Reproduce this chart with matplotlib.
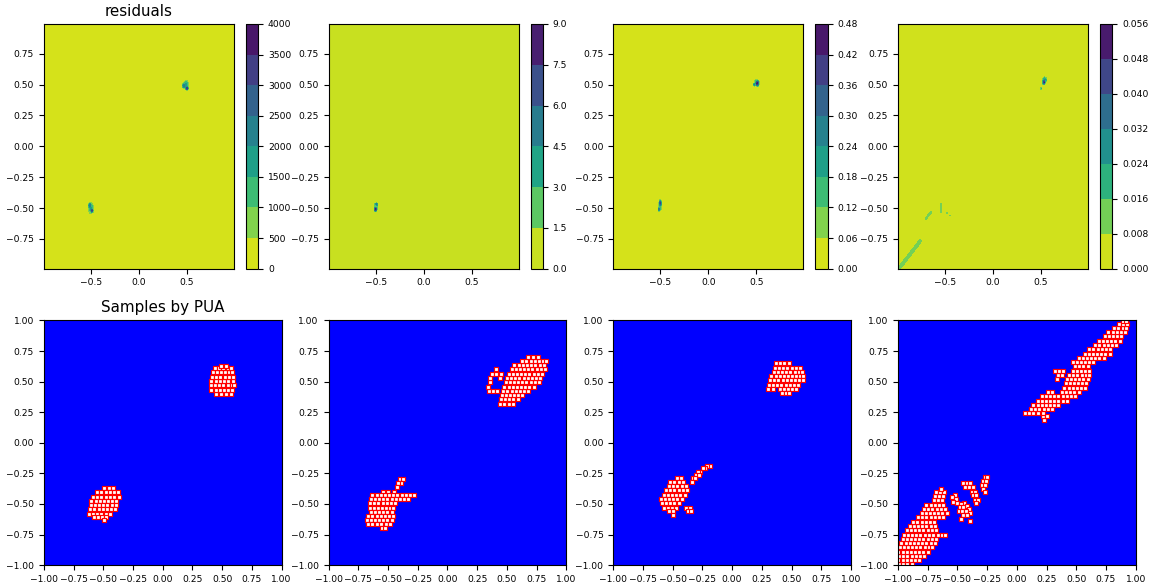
import numpy as np
import matplotlib
matplotlib.use("Agg")
import matplotlib.pyplot as plt

# residual hot spots: (x, y, peak, sx, sy)
res1_spots = [(0.47, 0.49, 2500, 0.012, 0.012), (0.50, 0.47, 3800, 0.008, 0.008),
              (0.49, 0.50, 1800, 0.016, 0.020), (-0.51, -0.48, 2600, 0.010, 0.014),
              (-0.49, -0.52, 3300, 0.008, 0.010), (-0.50, -0.50, 1600, 0.016, 0.030)]
res2_spots = [(-0.50, -0.51, 8.5, 0.008, 0.010), (-0.49, -0.47, 6.0, 0.006, 0.008),
              (-0.50, -0.49, 3.0, 0.014, 0.022)]
res3_spots = [(0.51, 0.51, 0.46, 0.010, 0.014), (0.48, 0.50, 0.30, 0.006, 0.007),
              (0.50, 0.52, 0.15, 0.016, 0.016), (-0.50, -0.46, 0.40, 0.007, 0.016),
              (-0.51, -0.51, 0.32, 0.006, 0.009), (-0.50, -0.48, 0.15, 0.012, 0.030)]
res4_spots = [(0.53, 0.52, 0.052, 0.008, 0.012), (0.54, 0.54, 0.025, 0.014, 0.014),
              (0.50, 0.47, 0.020, 0.005, 0.005), (-0.48, -0.54, 0.012, 0.004, 0.004),
              (-0.45, -0.56, 0.012, 0.004, 0.004)]
# thin streaks: (x0, y0, x1, y1, peak, width)
res4_streaks = [(-0.98, -0.99, -0.76, -0.77, 0.012, 0.014),
                (-0.70, -0.585, -0.645, -0.535, 0.011, 0.008),
                (-0.54, -0.53, -0.54, -0.47, 0.013, 0.005)]

# samples by PUA, one row = (y, [x, ...])
pua1_rows = [
    (0.40, [0.45, 0.49, 0.53, 0.57]),
    (0.435, [0.41, 0.445, 0.48, 0.515, 0.55, 0.585]),
    (0.47, [0.405, 0.44, 0.475, 0.51, 0.545, 0.58, 0.60]),
    (0.505, [0.41, 0.445, 0.48, 0.515, 0.55, 0.59]),
    (0.54, [0.415, 0.45, 0.485, 0.52, 0.555, 0.59]),
    (0.575, [0.42, 0.455, 0.49, 0.525, 0.56, 0.585]),
    (0.61, [0.44, 0.475, 0.51, 0.545, 0.575]),
    (0.63, [0.49, 0.53]),
    (-0.37, [-0.49, -0.455, -0.42]),
    (-0.405, [-0.55, -0.515, -0.48, -0.445, -0.41, -0.375]),
    (-0.44, [-0.585, -0.55, -0.515, -0.48, -0.445, -0.41, -0.37]),
    (-0.475, [-0.60, -0.565, -0.53, -0.495, -0.46, -0.425, -0.39]),
    (-0.51, [-0.605, -0.57, -0.535, -0.50, -0.465, -0.43, -0.395]),
    (-0.545, [-0.61, -0.575, -0.54, -0.505, -0.47, -0.435, -0.40]),
    (-0.58, [-0.62, -0.585, -0.55, -0.515, -0.48, -0.445]),
    (-0.61, [-0.58, -0.545, -0.51, -0.475]),
    (-0.635, [-0.49]),
]
pua2_rows = [
    (0.32, [0.44, 0.48, 0.52, 0.555]),
    (0.355, [0.45, 0.485, 0.52, 0.555, 0.59]),
    (0.39, [0.455, 0.49, 0.525, 0.56, 0.595, 0.63]),
    (0.425, [0.35, 0.385, 0.42, 0.47, 0.505, 0.54, 0.575, 0.61, 0.645, 0.68]),
    (0.46, [0.345, 0.48, 0.515, 0.55, 0.585, 0.62, 0.655, 0.69, 0.725]),
    (0.495, [0.355, 0.49, 0.525, 0.56, 0.595, 0.63, 0.665, 0.70, 0.735, 0.77]),
    (0.53, [0.36, 0.44, 0.50, 0.535, 0.57, 0.605, 0.64, 0.675, 0.71, 0.745, 0.78]),
    (0.565, [0.375, 0.41, 0.45, 0.515, 0.55, 0.585, 0.62, 0.655, 0.69, 0.725, 0.76, 0.795]),
    (0.60, [0.405, 0.54, 0.575, 0.61, 0.645, 0.68, 0.715, 0.75, 0.785, 0.82]),
    (0.635, [0.56, 0.60, 0.635, 0.67, 0.705, 0.74, 0.775, 0.81]),
    (0.67, [0.63, 0.665, 0.70, 0.735, 0.77, 0.805, 0.83]),
    (0.70, [0.68, 0.72, 0.76]),
    (-0.30, [-0.40, -0.375]),
    (-0.33, [-0.39, -0.415]),
    (-0.365, [-0.42]),
    (-0.40, [-0.54, -0.50, -0.45]),
    (-0.43, [-0.63, -0.595, -0.56, -0.525, -0.49, -0.455, -0.42, -0.385, -0.35, -0.315, -0.28]),
    (-0.46, [-0.645, -0.61, -0.575, -0.54, -0.505, -0.47, -0.435, -0.40, -0.365, -0.33]),
    (-0.495, [-0.65, -0.615, -0.58, -0.545, -0.51, -0.475, -0.44]),
    (-0.53, [-0.655, -0.62, -0.585, -0.55, -0.515, -0.48, -0.455]),
    (-0.565, [-0.645, -0.61, -0.575, -0.54, -0.505, -0.47]),
    (-0.60, [-0.665, -0.63, -0.595, -0.56, -0.525, -0.49, -0.46]),
    (-0.635, [-0.68, -0.645, -0.61, -0.575, -0.54, -0.505, -0.47]),
    (-0.665, [-0.67, -0.635, -0.59, -0.555, -0.52, -0.485]),
    (-0.70, [-0.55, -0.525]),
]
pua3_rows = [
    (0.65, [0.37, 0.405, 0.44, 0.475]),
    (0.615, [0.36, 0.395, 0.43, 0.465, 0.50, 0.535, 0.57]),
    (0.58, [0.35, 0.385, 0.42, 0.455, 0.49, 0.525, 0.56, 0.59]),
    (0.545, [0.33, 0.365, 0.40, 0.435, 0.47, 0.505, 0.54, 0.575, 0.595]),
    (0.51, [0.32, 0.355, 0.39, 0.425, 0.46, 0.495, 0.53, 0.565, 0.595]),
    (0.475, [0.31, 0.345, 0.38, 0.415, 0.45, 0.485, 0.52, 0.555]),
    (0.44, [0.30, 0.34, 0.40, 0.435, 0.47, 0.505, 0.54]),
    (0.41, [0.42, 0.455, 0.48]),
    (-0.19, [-0.19, -0.21]),
    (-0.21, [-0.23, -0.245]),
    (-0.235, [-0.27, -0.285]),
    (-0.26, [-0.30, -0.28]),
    (-0.29, [-0.33, -0.31]),
    (-0.29, [-0.46, -0.43]),
    (-0.32, [-0.52, -0.485, -0.45, -0.415, -0.34]),
    (-0.355, [-0.53, -0.495, -0.46, -0.425, -0.39]),
    (-0.39, [-0.555, -0.52, -0.485, -0.45, -0.415, -0.38]),
    (-0.425, [-0.575, -0.54, -0.505, -0.47, -0.435, -0.40]),
    (-0.46, [-0.60, -0.565, -0.53, -0.495, -0.46, -0.425]),
    (-0.495, [-0.59, -0.555, -0.52, -0.485, -0.45]),
    (-0.53, [-0.575, -0.54, -0.505, -0.47, -0.385, -0.355]),
    (-0.56, [-0.53, -0.495, -0.37, -0.345]),
    (-0.59, [-0.50]),
]
pua4_rows = [
    (0.19, [0.23]),
    (0.215, [0.22, 0.25]),
    (0.245, [0.07, 0.10, 0.14, 0.18, 0.22]),
    (0.275, [0.12, 0.155, 0.19, 0.225, 0.26, 0.295]),
    (0.31, [0.14, 0.175, 0.21, 0.245, 0.28, 0.315, 0.35]),
    (0.345, [0.175, 0.21, 0.245, 0.28, 0.315, 0.35, 0.385, 0.42]),
    (0.38, [0.21, 0.245, 0.28, 0.315, 0.35, 0.385, 0.42, 0.455, 0.49]),
    (0.415, [0.26, 0.30, 0.38, 0.415, 0.45, 0.485, 0.52]),
    (0.45, [0.40, 0.435, 0.47, 0.505, 0.54, 0.575]),
    (0.485, [0.41, 0.445, 0.48, 0.515, 0.55, 0.585]),
    (0.52, [0.34, 0.42, 0.455, 0.49, 0.525, 0.56, 0.595]),
    (0.555, [0.345, 0.38, 0.44, 0.475, 0.51, 0.545, 0.58, 0.61]),
    (0.59, [0.32, 0.355, 0.39, 0.47, 0.505, 0.54, 0.575, 0.61]),
    (0.625, [0.49, 0.525, 0.56, 0.595]),
    (0.66, [0.47, 0.505, 0.54, 0.575, 0.61, 0.645]),
    (0.695, [0.52, 0.555, 0.59, 0.625, 0.66, 0.695, 0.73]),
    (0.73, [0.57, 0.605, 0.64, 0.675, 0.71, 0.745, 0.78]),
    (0.765, [0.61, 0.645, 0.68, 0.715, 0.75, 0.785]),
    (0.80, [0.66, 0.695, 0.73, 0.765, 0.80, 0.835]),
    (0.835, [0.69, 0.725, 0.76, 0.795, 0.83, 0.865]),
    (0.87, [0.74, 0.775, 0.81, 0.845, 0.88]),
    (0.905, [0.77, 0.805, 0.84, 0.875, 0.91]),
    (0.94, [0.82, 0.855, 0.89, 0.92]),
    (0.97, [0.86, 0.895, 0.925]),
    (0.995, [0.89, 0.92]),
    (-0.99, [-0.99, -0.955, -0.92, -0.885]),
    (-0.96, [-0.995, -0.96, -0.925, -0.89, -0.855, -0.82]),
    (-0.925, [-0.99, -0.955, -0.92, -0.885, -0.85, -0.815, -0.78]),
    (-0.89, [-0.995, -0.96, -0.925, -0.89, -0.855, -0.82, -0.785, -0.75]),
    (-0.855, [-0.985, -0.95, -0.915, -0.88, -0.845, -0.81, -0.775, -0.74, -0.71]),
    (-0.82, [-0.97, -0.935, -0.90, -0.865, -0.83, -0.795, -0.76, -0.725, -0.69]),
    (-0.785, [-0.96, -0.925, -0.89, -0.855, -0.82, -0.785, -0.75, -0.715, -0.68]),
    (-0.75, [-0.95, -0.915, -0.88, -0.845, -0.81, -0.775, -0.74, -0.705, -0.66, -0.625, -0.60]),
    (-0.715, [-0.925, -0.89, -0.855, -0.82, -0.785, -0.75, -0.715, -0.68]),
    (-0.68, [-0.90, -0.865, -0.83, -0.795, -0.76, -0.725, -0.69]),
    (-0.645, [-0.87, -0.835, -0.80, -0.765, -0.73, -0.695]),
    (-0.61, [-0.83, -0.795, -0.76, -0.725, -0.69, -0.655, -0.62]),
    (-0.575, [-0.80, -0.765, -0.73, -0.695, -0.66, -0.625, -0.59]),
    (-0.54, [-0.78, -0.745, -0.71, -0.675, -0.64, -0.605]),
    (-0.505, [-0.76, -0.725, -0.69, -0.655, -0.62]),
    (-0.47, [-0.70, -0.665, -0.63]),
    (-0.435, [-0.69, -0.655, -0.62]),
    (-0.40, [-0.68, -0.645, -0.615]),
    (-0.375, [-0.64]),
    # side blobs
    (-0.425, [-0.52]),
    (-0.44, [-0.545]),
    (-0.46, [-0.51]),
    (-0.48, [-0.535]),
    (-0.49, [-0.50, -0.44]),
    (-0.50, [-0.47]),
    (-0.52, [-0.42]),
    (-0.525, [-0.48, -0.45]),
    (-0.54, [-0.40]),
    (-0.56, [-0.49, -0.46, -0.43]),
    (-0.575, [-0.395]),
    (-0.59, [-0.45, -0.42]),
    (-0.62, [-0.47]),
    (-0.64, [-0.39]),
    (-0.325, [-0.45, -0.42, -0.39]),
    (-0.36, [-0.435, -0.40, -0.37]),
    (-0.40, [-0.38, -0.35]),
    (-0.43, [-0.37, -0.34]),
    (-0.465, [-0.355, -0.33]),
    (-0.49, [-0.345]),
    (-0.28, [-0.27, -0.25]),
    (-0.31, [-0.28, -0.26]),
    (-0.345, [-0.29, -0.265]),
    (-0.375, [-0.28]),
    (-0.40, [-0.265]),
]

residual_spots = [res1_spots, res2_spots, res3_spots, res4_spots]
residual_streaks = [[], [], [], res4_streaks]
pua_rows = [pua1_rows, pua2_rows, pua3_rows, pua4_rows]

grid = np.linspace(-0.99, 0.99, 300)
gx, gy = np.meshgrid(grid, grid)


def residual_field(spots, streaks):
    # overlapping bumps take the larger value so each peak stays as read
    z = np.zeros_like(gx)
    for x0, y0, amp, sx, sy in spots:
        z = np.maximum(z, amp * np.exp(-((gx - x0) ** 2 / (2 * sx ** 2) + (gy - y0) ** 2 / (2 * sy ** 2))))
    for x0, y0, x1, y1, amp, w in streaks:
        dx, dy = x1 - x0, y1 - y0
        t = np.clip(((gx - x0) * dx + (gy - y0) * dy) / (dx * dx + dy * dy), 0, 1)
        d2 = (gx - x0 - t * dx) ** 2 + (gy - y0 - t * dy) ** 2
        z = np.maximum(z, amp * np.exp(-d2 / (2 * w ** 2)))
    return z


def rows_to_xy(rows):
    xs, ys = [], []
    for y, row in rows:
        xs += list(row)
        ys += [y] * len(row)
    return np.array(xs), np.array(ys)


plt.rcParams["xtick.labelsize"] = 6.6
plt.rcParams["ytick.labelsize"] = 6.6

fig, axes = plt.subplots(2, 4, figsize=(11.53, 5.85), dpi=100)
fig.subplots_adjust(left=0.038, right=0.985, top=0.959, bottom=0.034, wspace=0.197, hspace=0.212)

for i in range(4):
    ax = axes[0, i]
    cf = ax.contourf(gx, gy, residual_field(residual_spots[i], residual_streaks[i]), cmap="viridis_r")
    cb = fig.colorbar(cf, ax=ax)
    cb.ax.tick_params(labelsize=6.6)
    ax.set_xticks([-0.5, 0.0, 0.5])
    ax.set_yticks([-0.75, -0.5, -0.25, 0.0, 0.25, 0.5, 0.75])

    ax = axes[1, i]
    ax.set_facecolor("#0000ff")
    px, py = rows_to_xy(pua_rows[i])
    ax.scatter(px, py, s=11, marker="s", facecolor="white", edgecolors="red", linewidths=0.85)
    ax.set_xlim(-1, 1)
    ax.set_ylim(-1, 1)
    ticks = np.arange(-1, 1.01, 0.25)
    ax.set_xticks(ticks)
    ax.set_yticks(ticks)

axes[0, 0].set_title("residuals", fontsize=10.9)
axes[1, 0].set_title("Samples by PUA", fontsize=10.9)

fig.savefig("out.png", dpi=100)
